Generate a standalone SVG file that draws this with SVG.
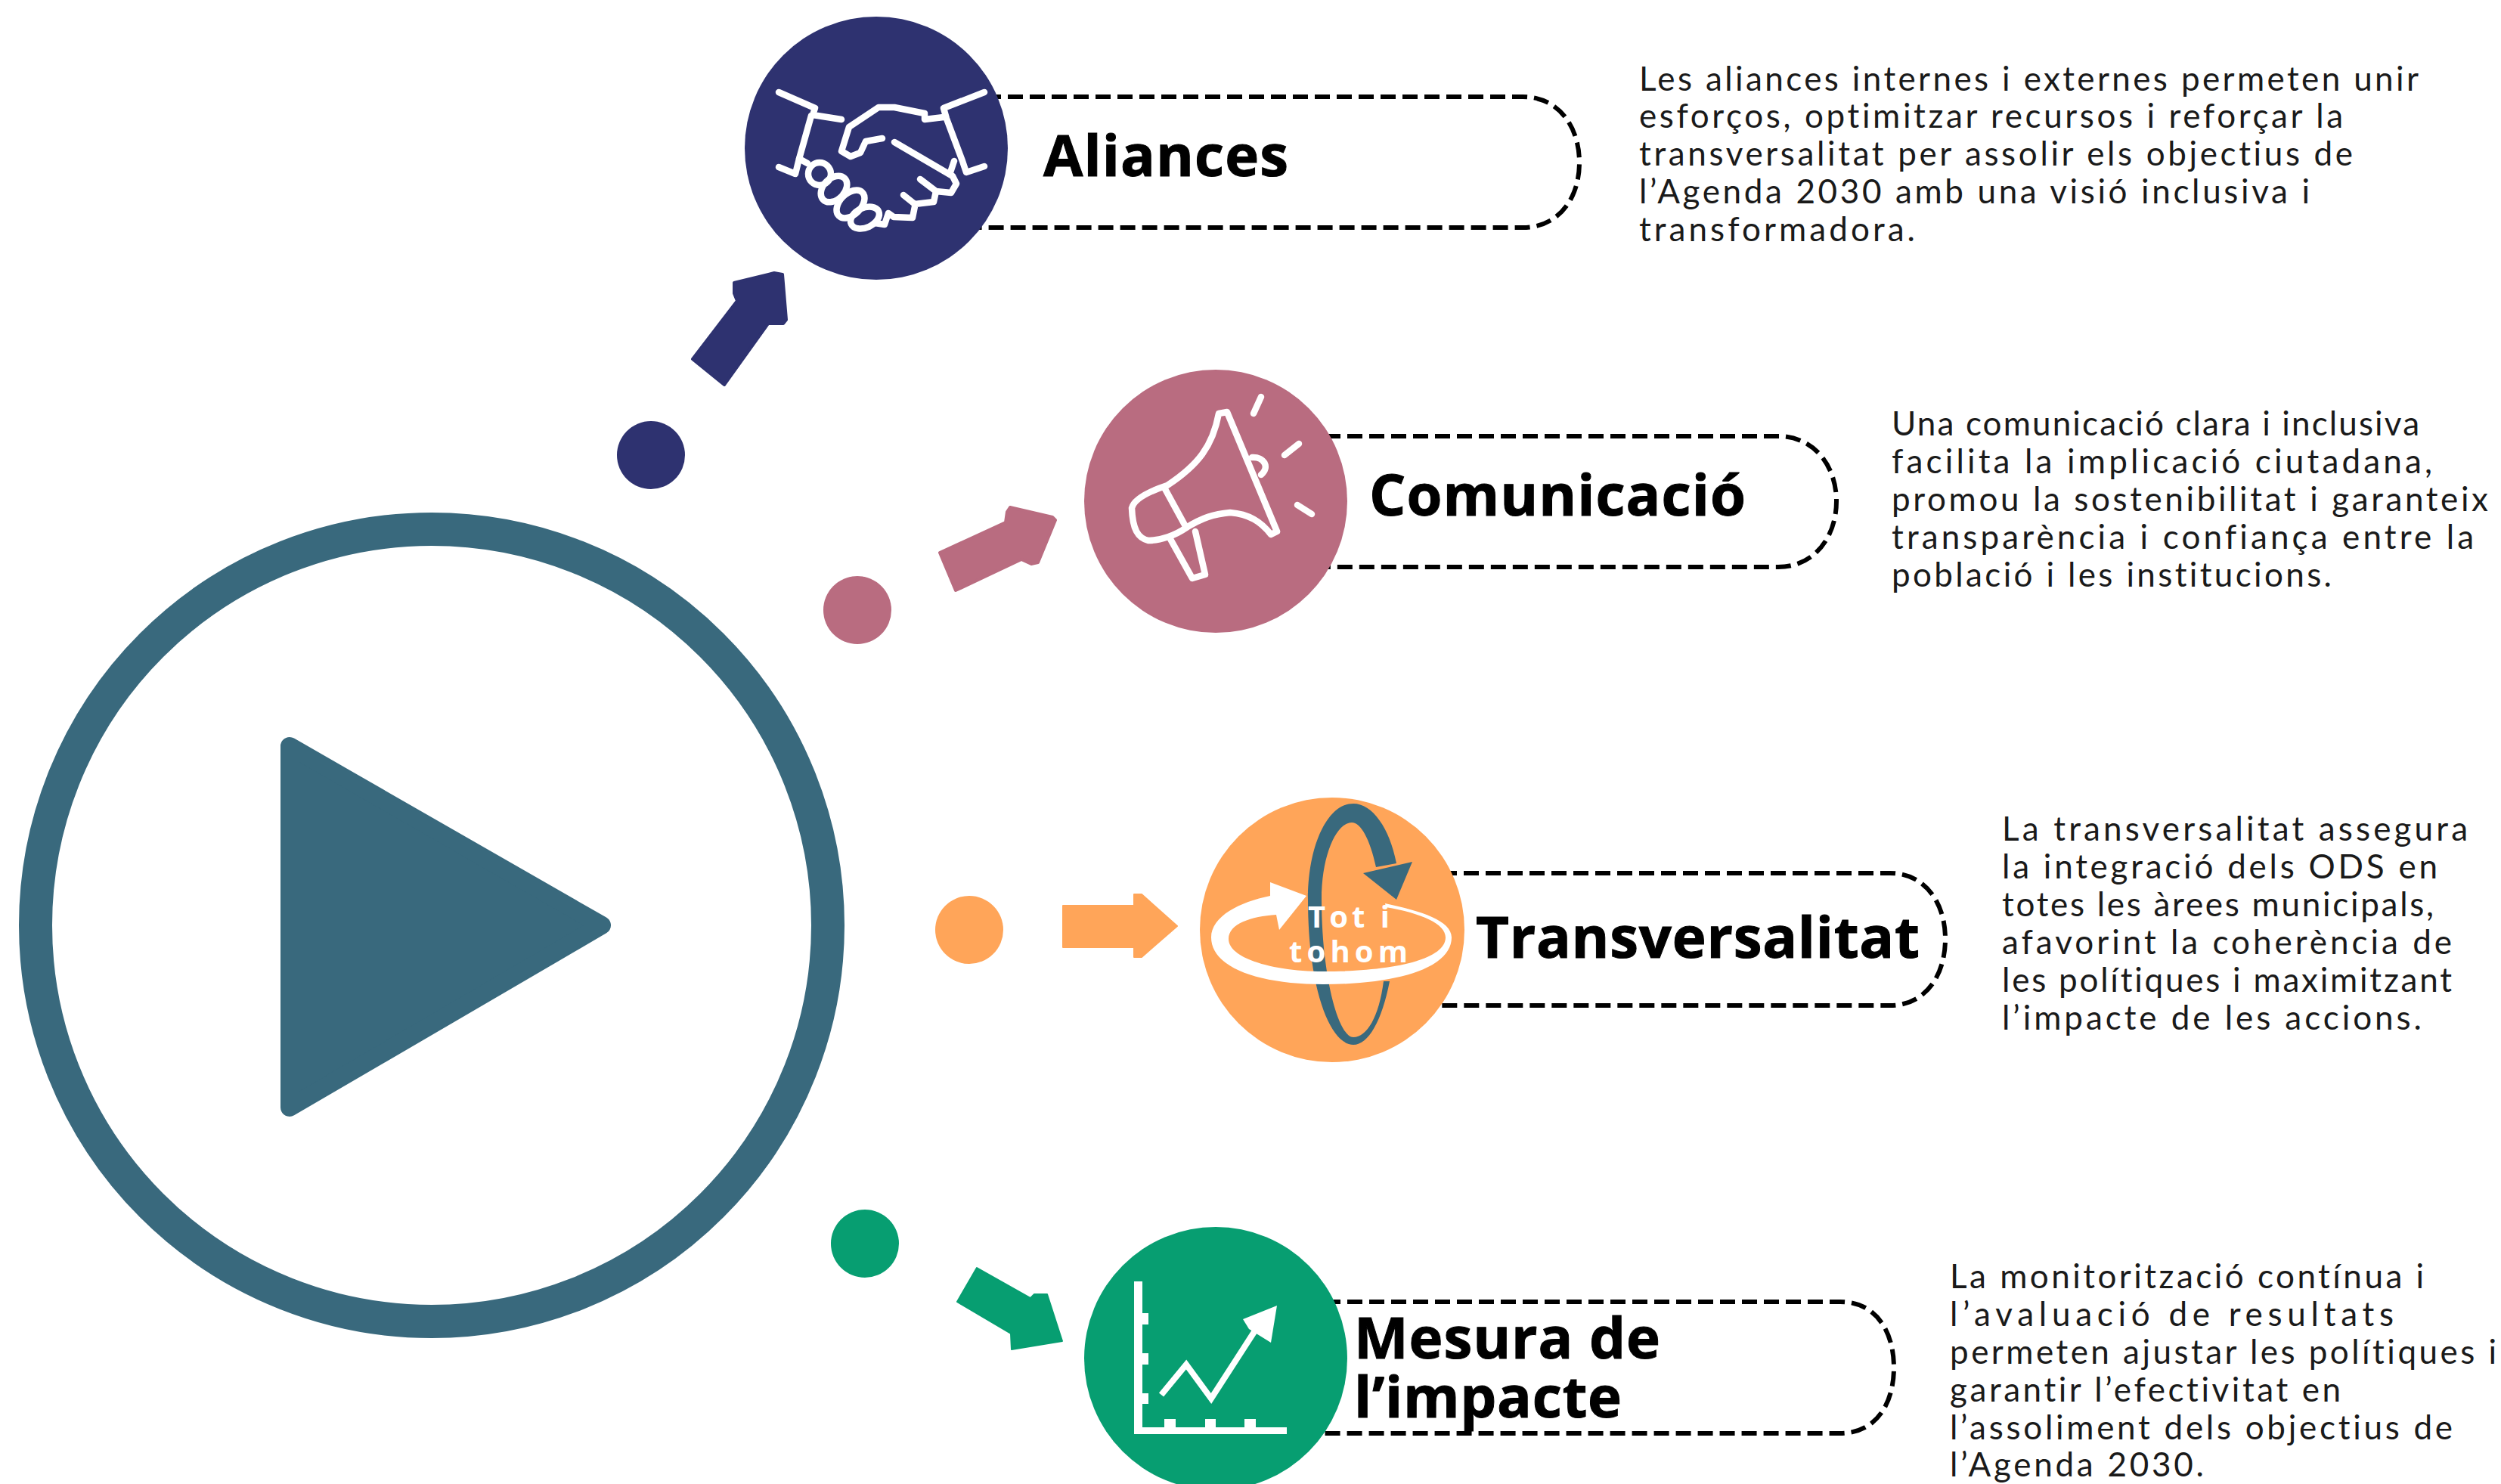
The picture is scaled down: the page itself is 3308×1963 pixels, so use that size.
<svg xmlns="http://www.w3.org/2000/svg" width="3308" height="1963" viewBox="0 0 3308 1963">
<style>
.pill{fill:none;stroke:#000;stroke-width:6;stroke-dasharray:20 9}
.title{font-family:"Open Sans","Noto Sans",sans-serif;font-weight:700;font-size:76px;fill:#000;stroke:#000;stroke-width:1}
.body{font-family:Lato,"Noto Sans",sans-serif;font-size:44px;fill:#1a1a1a;font-variant-ligatures:none}
.ico{fill:none;stroke:#fff;stroke-width:8.5;stroke-linecap:round;stroke-linejoin:round}
.wt{font-family:"Open Sans","Noto Sans",sans-serif;font-weight:700;font-size:40px;fill:#fff}
.navy{fill:#2E3270}.pink{fill:#B96C80}.orange{fill:#FFA559}.green{fill:#079E71}.teal{fill:#39697D}
</style>
<rect width="3308" height="1963" fill="#fff"/>
<g id="play">
<circle cx="571" cy="1224" r="524" fill="none" stroke="#39697D" stroke-width="44"/>
<path class="teal" stroke="#39697D" stroke-width="24" stroke-linejoin="round" d="M383 987L796 1224L383 1465Z"/>
</g>
<g id="connectors">
<circle class="navy" cx="861" cy="602" r="45"/>
<path class="navy" stroke="#2E3270" stroke-width="4" stroke-linejoin="round" d="M916 475L958 509L1016 428L1036 428L1040 423L1035 363L1024 361L971 374L971 388L975 398Z"/>
<circle class="pink" cx="1134" cy="807" r="45"/>
<path class="pink" stroke="#B96C80" stroke-width="4" stroke-linejoin="round" d="M1243 731L1264 781L1351 740L1364 746L1373 744L1396 688L1392 684L1336 671L1332 677L1330 691Z"/>
<circle class="orange" cx="1282" cy="1230" r="45"/>
<path class="orange" stroke="#FFA559" stroke-width="2" stroke-linejoin="round" d="M1406 1198H1500V1183H1510L1557 1225L1510 1266H1500V1253H1406Z"/>
<circle class="green" cx="1144" cy="1645" r="45"/>
<path class="green" stroke="#079E71" stroke-width="2" stroke-linejoin="round" d="M1292 1677L1266 1722L1337 1764L1338 1785L1405 1774L1385 1712L1368 1712L1363 1717Z"/>
</g>
<g id="aliances">
<path class="pill" d="M1159 128H2014C2062 128 2089 168 2089 215C2089 262 2062 301 2014 301H1159"/>
<circle class="navy" cx="1159" cy="196" r="174"/>
<g class="ico">
<path d="M1030 122L1078 143L1075 152L1113 158M1073 153L1057 210L1052 230L1030 221"/>
<path d="M1302 122L1248 143L1252 157L1273 213L1278 228L1302 220M1262 213L1257 228"/>
<path d="M1248 155L1223 158L1223 150L1183 142L1162 142L1153 148L1123 168L1113 200L1125 207L1138 202L1145 187L1167 183"/>
<path d="M1183 188L1260 233L1265 243L1258 255L1238 253L1217 237M1238 253L1235 267L1210 270L1195 258M1210 273L1207 288L1182 287L1175 282L1170 297L1157 295"/>
<path d="M1057 210L1068 216"/>
<circle cx="1084" cy="230" r="15"/>
<ellipse cx="1103" cy="250" rx="20" ry="14" transform="rotate(-45 1103 250)"/>
<ellipse cx="1125" cy="270" rx="22" ry="14" transform="rotate(-45 1125 270)"/>
<ellipse cx="1144" cy="288" rx="20" ry="13" transform="rotate(-25 1144 288)"/>
</g>
<text class="title" x="1380" y="233" textLength="324">Aliances</text>
</g>
<g id="comunicacio">
<path class="pill" d="M1608 577H2352C2400 577 2429 617 2429 663C2429 710 2400 750 2352 750H1608"/>
<circle class="pink" cx="1608" cy="663" r="174"/>
<g class="ico">
<path d="M1544 642C1585 615 1604 590 1612 547L1623 545L1689 703L1681 707C1668 690 1652 680 1627 678C1605 680 1590 685 1569 698C1555 708 1535 715 1519 715C1505 712 1498 700 1497 672C1500 660 1520 650 1544 642Z"/>
<path d="M1540 645L1569 698M1548 713L1577 765L1594 760L1581 703M1656 605C1672 604 1680 618 1668 628"/>
<path d="M1668 525L1658 547M1718 587L1699 602M1716 668L1735 680"/>
</g>
<text class="title" x="1811" y="682" textLength="498">Comunicació</text>
</g>
<g id="transversalitat">
<path class="pill" d="M1762 1155H2500C2547 1155 2573 1195 2573 1242C2573 1290 2547 1330 2500 1330H1762"/>
<circle class="orange" cx="1762" cy="1230" r="175"/>
<path class="teal" d="M1838 1298C1828 1350 1810 1382 1790 1382C1760 1382 1730 1310 1730 1190C1730 1120 1755 1063 1790 1063C1815 1063 1838 1095 1847 1142L1820 1147C1812 1110 1800 1088 1788 1088C1768 1088 1748 1130 1748 1190C1748 1290 1770 1372 1790 1372C1808 1372 1824 1345 1830 1298Z"/>
<path class="teal" d="M1868 1140L1803 1155L1847 1190Z"/>
<path fill="#fff" d="M1832 1195C1880 1205 1920 1218 1920 1240C1920 1280 1850 1302 1750 1302C1665 1302 1602 1280 1602 1240C1602 1212 1640 1193 1680 1185L1680 1167L1728 1185L1692 1230L1688 1210C1655 1212 1625 1222 1625 1242C1625 1268 1685 1285 1750 1285C1840 1285 1912 1270 1912 1240C1912 1222 1880 1208 1833 1200Z"/>
<text class="wt" x="1730" y="1227" textLength="108">Tot i</text>
<text class="wt" x="1705" y="1273" textLength="157">tohom</text>
<text class="title" x="1952" y="1267" textLength="587">Transversalitat</text>
</g>
<g id="mesura">
<path class="pill" d="M1608 1722H2434C2482 1722 2505 1762 2505 1809C2505 1856 2482 1896 2434 1896H1608"/>
<circle class="green" cx="1608" cy="1797" r="174"/>
<path fill="#fff" d="M1500 1695H1511V1737H1519V1752H1511V1790H1519V1805H1511V1843H1519V1857H1511V1888H1540V1877H1555V1888H1594V1877H1608V1888H1646V1877H1661V1888H1702V1897H1500Z"/>
<path fill="none" stroke="#fff" stroke-width="8" stroke-linejoin="miter" d="M1536 1845L1569 1805L1602 1850L1662 1757"/>
<path fill="#fff" d="M1689 1727L1644 1745L1652 1758L1681 1776Z"/>
<text class="title" x="1791" y="1797" textLength="405">Mesura de</text>
<text class="title" x="1791" y="1875" textLength="354">l’impacte</text>
</g>
<g id="text-aliances">
<text class="body" x="2168" y="120" textLength="1031">Les aliances internes i externes permeten unir</text>
<text class="body" x="2168" y="169" textLength="931">esforços, optimitzar recursos i reforçar la</text>
<text class="body" x="2168" y="219" textLength="944">transversalitat per assolir els objectius de</text>
<text class="body" x="2168" y="269" textLength="887">l’Agenda 2030 amb una visió inclusiva i</text>
<text class="body" x="2168" y="319" textLength="365">transformadora.</text>
</g>
<g id="text-comunicacio">
<text class="body" x="2502" y="576" textLength="698">Una comunicació clara i inclusiva</text>
<text class="body" x="2502" y="626" textLength="715">facilita la implicació ciutadana,</text>
<text class="body" x="2502" y="676" textLength="789">promou la sostenibilitat i garanteix</text>
<text class="body" x="2502" y="726" textLength="770">transparència i confiança entre la</text>
<text class="body" x="2502" y="776" textLength="582">població i les institucions.</text>
</g>
<g id="text-transversalitat">
<text class="body" x="2648" y="1112" textLength="616">La transversalitat assegura</text>
<text class="body" x="2648" y="1162" textLength="576">la integració dels ODS en</text>
<text class="body" x="2648" y="1212" textLength="571">totes les àrees municipals,</text>
<text class="body" x="2648" y="1262" textLength="595">afavorint la coherència de</text>
<text class="body" x="2648" y="1312" textLength="595">les polítiques i maximitzant</text>
<text class="body" x="2648" y="1362" textLength="555">l’impacte de les accions.</text>
</g>
<g id="text-mesura">
<text class="body" x="2579" y="1704" textLength="627">La monitorització contínua i</text>
<text class="body" x="2579" y="1754" textLength="587">l’avaluació de resultats</text>
<text class="body" x="2579" y="1804" textLength="723">permeten ajustar les polítiques i</text>
<text class="body" x="2579" y="1854" textLength="517">garantir l’efectivitat en</text>
<text class="body" x="2579" y="1904" textLength="665">l’assoliment dels objectius de</text>
<text class="body" x="2579" y="1953" textLength="336">l’Agenda 2030.</text>
</g>
</svg>
